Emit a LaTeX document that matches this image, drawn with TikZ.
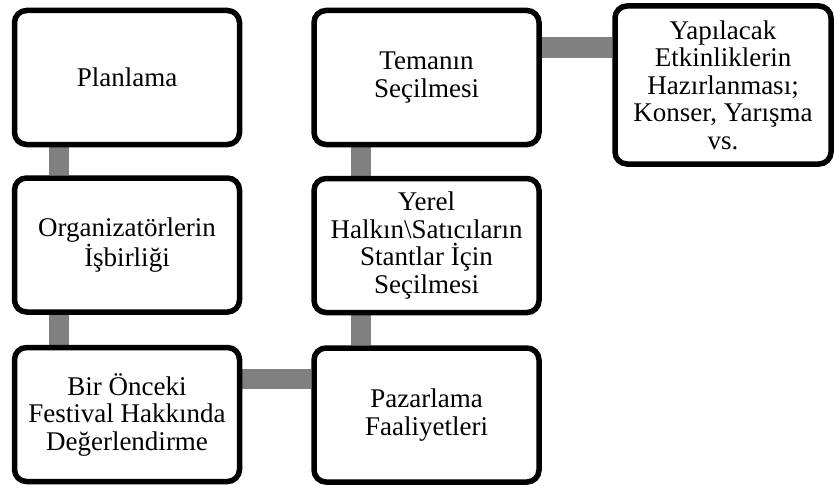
\documentclass[tikz,border=0pt]{standalone}
\usepackage{fontspec}
\setmainfont{Liberation Serif}
\usetikzlibrary{backgrounds}
\definecolor{barg}{RGB}{128,128,128}
\begin{document}
\begin{tikzpicture}[x=1pt,y=-1pt,
  box/.style={draw=black, line width=5.5pt, rounded corners=12pt, fill=white,
    minimum width=225pt, minimum height=134pt, align=center, inner sep=0pt,
    font=\fontsize{27}{27.5}\selectfont},
  bar/.style={draw=barg, line width=20pt}]
\useasboundingbox (0,0) rectangle (834,487);
\node[box] (plan) at (127,77.5) {Planlama};
\node[box] (org) at (127,245) {Organizatörlerin\\İşbirliği};
\node[box] (bir) at (127,414.5) {Bir Önceki\\Festival Hakkında\\Değerlendirme};
\node[box] (paz) at (426.5,415) {Pazarlama\\Faaliyetleri};
\node[box] (yer) at (426.5,245.5) {Yerel\\Halkın\textbackslash Satıcıların\\Stantlar İçin\\Seçilmesi};
\node[box] (tema) at (426.5,77.5) {Temanın\\Seçilmesi};
\node[box, minimum width=216pt, minimum height=158pt] (yap) at (723,85) {Yapılacak\\Etkinliklerin\\Hazırlanması;\\Konser, Yarışma\\vs.};
\begin{scope}[on background layer]
\draw[bar] ([xshift=47pt]plan.south west) -- ([xshift=47pt]org.north west);
\draw[bar] ([xshift=47pt]org.south west) -- ([xshift=47pt]bir.north west);
\draw[bar] ([yshift=36pt]bir.east) -- ([yshift=36pt]bir.east -| paz.west);
\draw[bar] ([xshift=49.5pt]paz.north west) -- ([xshift=49.5pt]yer.south west);
\draw[bar] ([xshift=49.5pt]yer.north west) -- ([xshift=49.5pt]tema.south west);
\draw[bar] ([yshift=30pt]tema.east) -- ([yshift=30pt]tema.east -| yap.west);
\end{scope}
\end{tikzpicture}
\end{document}
